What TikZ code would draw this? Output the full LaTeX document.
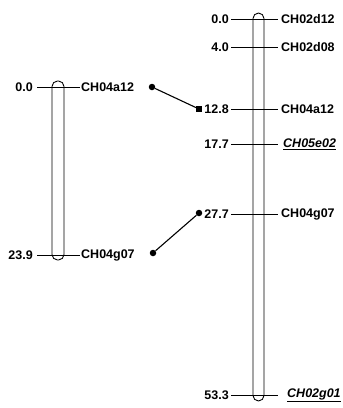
\documentclass[tikz,border=0pt]{standalone}
\usepackage{fontspec}
\setmainfont{Liberation Sans}
\begin{document}
\begin{tikzpicture}[x=1pt,y=-1pt,
 lbl/.style={font=\fontsize{12.5}{14}\selectfont\bfseries, inner sep=0pt},
 ulbl/.style={lbl, font=\fontsize{12.5}{14}\selectfont\bfseries\itshape},
 chrom/.style={draw, line width=0.9pt, rounded corners=5.5pt},
 tickline/.style={line width=0.8pt},
 dotmark/.style={circle, fill, inner sep=0pt, minimum size=6.5pt},
 sqmark/.style={rectangle, fill, inner sep=0pt, minimum size=5.5pt},
 link/.style={line width=1.1pt}]
\useasboundingbox (0,0) rectangle (343,408);
% left chromosome
\draw[chrom] (52,81) rectangle (64,260);
\coordinate (la1) at (37,87);  \coordinate (lb1) at (80,87);
\coordinate (la2) at (37,255); \coordinate (lb2) at (80,255);
\draw[tickline] (la1) -- (lb1);
\draw[tickline] (la2) -- (lb2);
\node[lbl, anchor=east] (lp1) at (33,87) {0.0};
\node[lbl, anchor=east] (lp2) at (33,255) {23.9};
\node[lbl, anchor=west] (lm1) at (81,87) {CH04a12};
\node[lbl, anchor=west] (lm2) at (81,255) {CH04g07};
% right chromosome
\draw[chrom] (253,13) rectangle (264,401);
\foreach \y/\p/\m/\n in {19/0.0/CH02d12/1, 47/4.0/CH02d08/2, 109/12.8/CH04a12/3, 144/17.7/{}/4, 214/27.7/CH04g07/5, 395/53.3/{}/6}{
  \coordinate (ra\n) at (231,\y); \coordinate (rb\n) at (278,\y);
  \draw[tickline] (ra\n) -- (rb\n);
  \node[lbl, anchor=east] (rp\n) at (229,\y) {\p};
  \node[lbl, anchor=west] (rm\n) at (281,\y) {\m};
}
\node[ulbl, anchor=west] (rm4u) at (283,144) {\underline{CH05e02}};
\node[ulbl, anchor=west] (rm6u) at (287,395) {\underline{CH02g01}};
% connectors
\node[dotmark] (c1) at (152,87) {};
\node[sqmark] (s1) at (199,109) {};
\draw[link] (c1) -- (s1);
\node[dotmark] (c2) at (153,253) {};
\node[dotmark] (c3) at (199,213) {};
\draw[link] (c2) -- (c3);
\end{tikzpicture}
\end{document}
